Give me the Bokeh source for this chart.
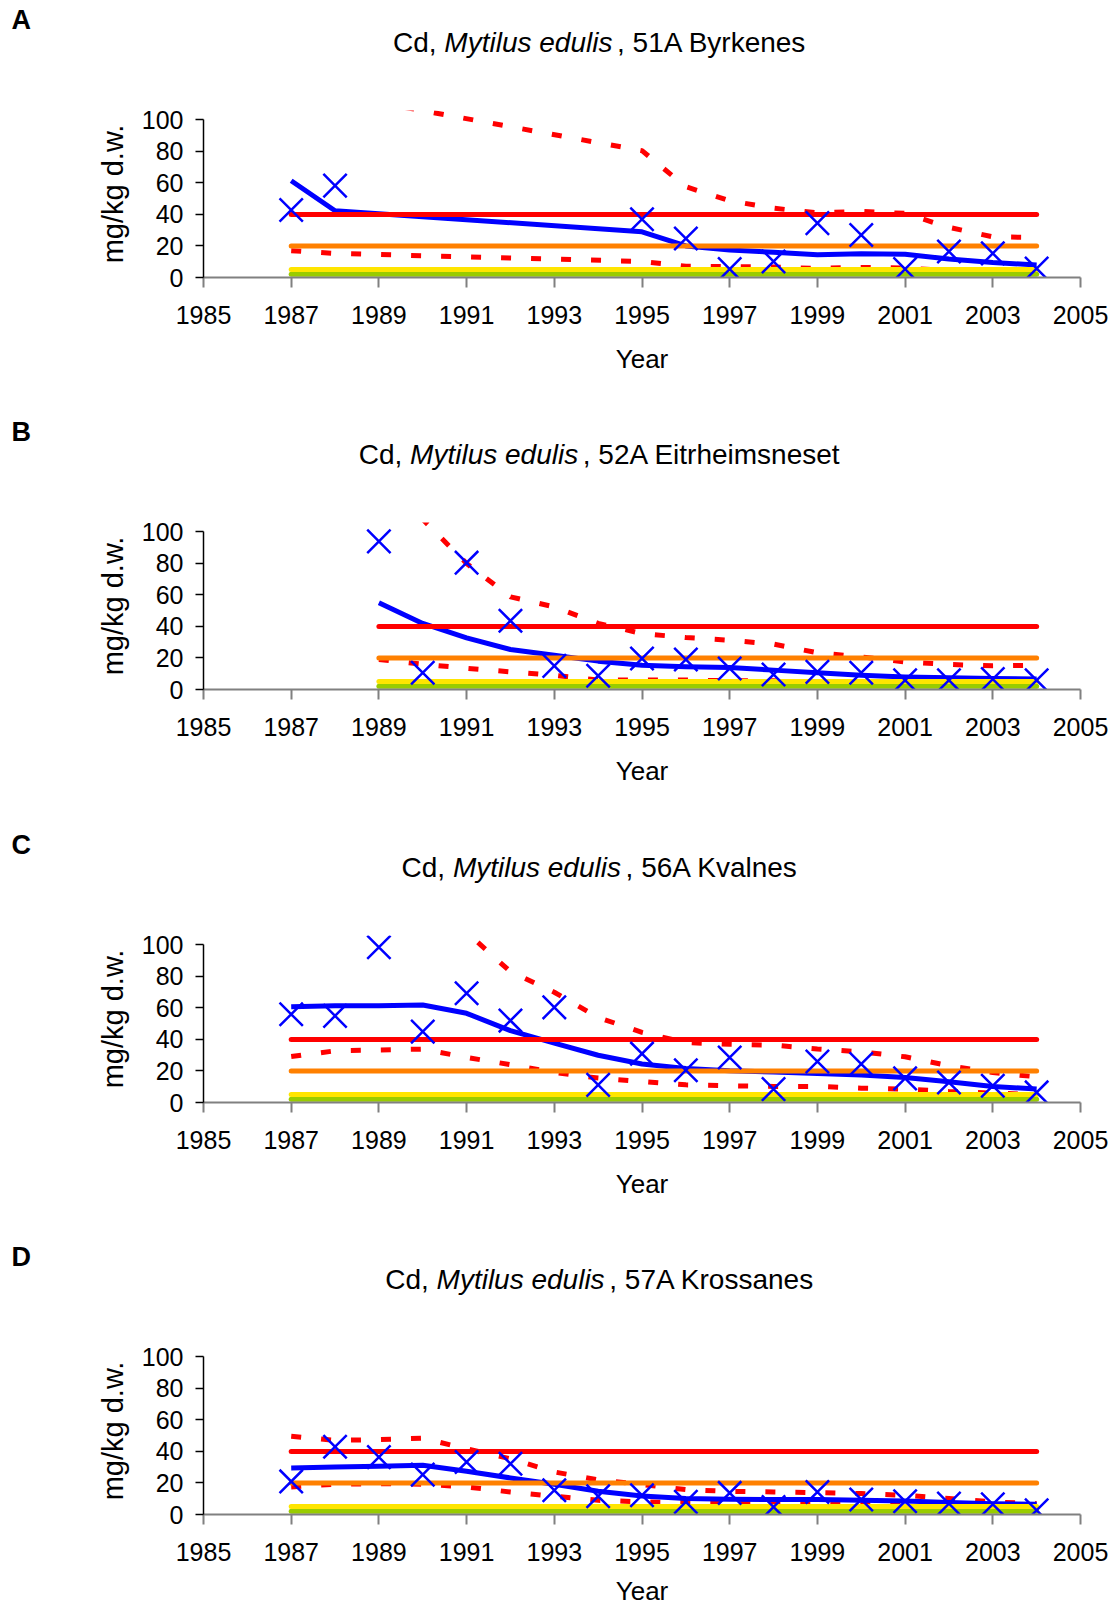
from bokeh.plotting import figure
from bokeh.models import Range1d, FixedTicker, Label
from bokeh.layouts import column
from bokeh.embed import file_html
from bokeh.resources import INLINE

# ---------------- data ----------------
x_ticks = [1985, 1987, 1989, 1991, 1993, 1995, 1997, 1999, 2001, 2003, 2005]
y_ticks = [0, 20, 40, 60, 80, 100]
class_levels = [2, 5, 20, 40]
class_colors = ["#99CC00", "#FFE500", "#FF8000", "#FF0000"]

years_A = [1987, 1988, 1995, 1996, 1997, 1998, 1999, 2000, 2001, 2002, 2003, 2004]
obs_A = [42.8, 58.3, 37.0, 24.8, 5.3, 10.2, 34.5, 27.0, 5.3, 16.5, 15.3, 5.7]
trend_A = [61.4, 42.4, 29.0, 20.0, 17.4, 16.0, 14.4, 15.0, 14.8, 11.7, 9.5, 8.0]
upper_A = [220.0, 116.0, 80.5, 57.6, 48.7, 44.0, 41.0, 42.0, 40.7, 31.8, 25.8, 25.4]
lower_A = [17.0, 15.3, 10.2, 7.2, 6.9, 6.6, 5.8, 6.4, 6.0, 4.5, 3.5, 3.0]

years_B = [1989, 1990, 1991, 1992, 1993, 1994, 1995, 1996, 1997, 1998, 1999, 2000, 2001, 2002, 2003, 2004]
obs_B = [94.0, 10.6, 80.5, 43.6, 15.0, 8.7, 19.7, 19.0, 13.3, 9.5, 11.2, 10.6, 5.9, 5.9, 6.6, 5.9]
trend_B = [55.0, 41.9, 32.8, 25.4, 21.8, 18.0, 15.4, 14.4, 14.0, 12.3, 10.6, 9.1, 8.0, 7.4, 7.0, 6.6]
upper_B = [160.0, 108.0, 80.0, 58.8, 52.4, 42.0, 35.5, 33.0, 31.3, 28.8, 23.3, 20.7, 17.5, 15.9, 15.0, 15.4]
lower_B = [19.0, 16.0, 13.5, 11.2, 9.0, 6.0, 6.0, 6.0, 5.5, 5.5, 4.5, 4.0, 3.5, 3.0, 3.0, 3.0]

years_C = [1987, 1988, 1989, 1990, 1991, 1992, 1993, 1994, 1995, 1996, 1997, 1998, 1999, 2000, 2001, 2002, 2003, 2004]
obs_C = [56.0, 55.0, 98.5, 45.0, 69.3, 52.0, 60.4, 11.2, 31.0, 20.5, 28.6, 8.5, 26.0, 24.4, 15.3, 12.7, 10.6, 6.4]
trend_C = [60.8, 61.4, 61.4, 61.9, 56.6, 45.6, 37.7, 30.0, 24.4, 21.6, 20.1, 19.3, 18.4, 17.4, 15.9, 13.1, 10.2, 8.5]
upper_C = [250.0, 220.0, 180.0, 140.0, 108.0, 83.0, 70.0, 54.0, 44.5, 38.0, 37.0, 36.4, 34.0, 32.2, 29.0, 23.3, 19.0, 16.3]
lower_C = [29.2, 32.8, 33.3, 33.9, 28.6, 24.0, 19.0, 15.5, 13.3, 11.2, 10.6, 10.2, 10.2, 9.1, 8.5, 7.0, 6.0, 5.0]

years_D = [1987, 1988, 1989, 1990, 1991, 1992, 1993, 1994, 1995, 1996, 1997, 1998, 1999, 2000, 2001, 2002, 2003, 2004]
obs_D = [21.0, 43.0, 36.4, 25.3, 33.3, 32.2, 15.4, 11.6, 12.2, 8.0, 13.7, 4.8, 14.3, 9.5, 8.4, 6.9, 6.5, 2.7]
trend_D = [29.5, 30.1, 30.7, 31.2, 27.4, 23.2, 19.2, 14.7, 11.8, 10.1, 9.7, 9.5, 9.5, 9.0, 8.6, 7.6, 6.9, 6.5]
upper_D = [49.7, 47.0, 47.6, 48.4, 41.7, 35.4, 27.0, 22.0, 19.0, 15.8, 14.7, 14.3, 13.9, 13.3, 12.2, 10.1, 8.0, 6.9]
lower_D = [17.5, 19.2, 19.6, 19.2, 17.5, 14.3, 11.6, 9.0, 8.0, 7.6, 7.6, 7.4, 7.4, 7.0, 6.5, 6.0, 5.5, 5.0]

panel_letters = ["A", "B", "C", "D"]
species = "Mytilus edulis"
stations = ["51A Byrkenes", "52A Eitrheimsneset", "56A Kvalnes", "57A Krossanes"]

# ---------------- layout geometry (pixels) ----------------
FIG_W = 1115
HEAD_H = 90                # header strip (letter + title)
FT = 20                    # space between header and plot frame
FL, FW, FH = 203, 877, 167
X0, X1, Y0, Y1 = 1985, 2005, 0, 106
FONT = "Liberation Sans"
TITLE_SIZE = 28

# Arial / Liberation Sans advance widths (1/1000 em)
W = {" ": 278, ",": 278, ".": 278, "A": 667, "B": 667, "C": 722, "D": 722, "E": 667,
     "K": 667, "M": 833, "a": 556, "b": 556, "c": 500, "d": 556, "e": 556, "f": 278,
     "g": 556, "h": 556, "i": 222, "j": 222, "k": 500, "l": 222, "m": 833, "n": 556,
     "o": 556, "p": 556, "q": 556, "r": 333, "s": 500, "t": 278, "u": 556, "v": 500,
     "w": 722, "x": 500, "y": 500, "z": 500}
for dgt in "0123456789":
    W[dgt] = 556


def tw(s, size):
    return sum(W.get(c, 556) for c in s) / 1000.0 * size


def make_header(letter, station):
    h = figure(width=FIG_W, height=HEAD_H, output_backend="svg", toolbar_location=None,
               title=None, x_axis_location=None, y_axis_location=None,
               x_range=Range1d(0, FIG_W), y_range=Range1d(HEAD_H, 0),
               min_border=0, min_border_left=0, min_border_right=0,
               min_border_top=0, min_border_bottom=0, frame_align=False)
    h.outline_line_color = None
    h.grid.visible = False
    h.xgrid.visible = False
    h.ygrid.visible = False
    h.background_fill_color = "white"
    h.border_fill_color = "white"
    h.add_layout(Label(x=11, y=19, text=letter, text_font=FONT,
                       text_font_size="27px", text_font_style="bold",
                       text_color="black", text_align="left", text_baseline="middle"))
    ts = TITLE_SIZE
    first = "Cd,"
    third = ", " + station
    total = tw("Cd, ", ts) + tw(species, ts) + tw(" " + third, ts)
    start = 601 - total / 2.0
    mid_y = 42
    h.add_layout(Label(x=start, y=mid_y, text=first, text_font=FONT,
                       text_font_size=f"{ts}px", text_color="black",
                       text_align="left", text_baseline="middle"))
    x2 = start + tw("Cd, ", ts)
    h.add_layout(Label(x=x2, y=mid_y, text=species, text_font=FONT,
                       text_font_size=f"{ts}px", text_font_style="italic", text_color="black",
                       text_align="left", text_baseline="middle"))
    x3 = x2 + tw(species, ts) + tw(" ", ts) * 0.6
    h.add_layout(Label(x=x3, y=mid_y, text=third, text_font=FONT,
                       text_font_size=f"{ts}px", text_color="black",
                       text_align="left", text_baseline="middle"))
    return h


def make_panel(years, obs, trend, upper, lower, height, label_standoff):
    p = figure(width=FIG_W, height=height, output_backend="svg", toolbar_location=None,
               title=None, x_range=Range1d(X0, X1), y_range=Range1d(Y0, Y1),
               min_border_left=FL, min_border_top=FT,
               min_border_right=FIG_W - FL - FW, min_border_bottom=height - FT - FH,
               frame_align=False)
    p.outline_line_color = None
    p.grid.visible = False
    p.background_fill_color = "white"
    p.border_fill_color = "white"

    # confidence band limits (dotted)
    p.line(years, upper, line_color="#FF0000", line_width=5, line_dash="10 20")
    p.line(years, lower, line_color="#FF0000", line_width=5, line_dash="10 20")
    # trend line
    p.line(years, trend, line_color="#0000FF", line_width=5, line_join="round")
    # class limits
    n = len(class_levels)
    p.segment(x0=[years[0]] * n, x1=[years[-1]] * n, y0=class_levels, y1=class_levels,
              line_color=class_colors, line_width=5, line_cap="round")
    # observations
    p.scatter(years, obs, marker="x", size=33, line_color="#0000FF", line_width=2.5)

    xa = p.xaxis[0]
    xa.ticker = FixedTicker(ticks=x_ticks)
    xa.axis_label = "Year"
    xa.axis_label_text_font = FONT
    xa.axis_label_text_font_size = "26px"
    xa.axis_label_text_font_style = "normal"
    xa.axis_label_text_color = "black"
    xa.axis_label_standoff = label_standoff
    xa.major_label_text_font = FONT
    xa.major_label_text_font_size = "25px"
    xa.major_label_text_color = "black"
    xa.major_label_standoff = 18
    xa.major_tick_out = 10
    xa.major_tick_in = 0
    xa.minor_tick_out = 0
    xa.minor_tick_in = 0
    xa.axis_line_color = "#808080"
    xa.axis_line_width = 2
    xa.major_tick_line_color = "#808080"
    xa.major_tick_line_width = 2

    ya = p.yaxis[0]
    ya.ticker = FixedTicker(ticks=y_ticks)
    ya.bounds = (0, 100)
    ya.axis_label = "mg/kg d.w."
    ya.axis_label_text_font = FONT
    ya.axis_label_text_font_size = "29px"
    ya.axis_label_text_font_style = "normal"
    ya.axis_label_text_color = "black"
    ya.axis_label_standoff = 10
    ya.major_label_text_font = FONT
    ya.major_label_text_font_size = "25px"
    ya.major_label_text_color = "black"
    ya.major_label_standoff = 12
    ya.major_tick_out = 8
    ya.major_tick_in = 0
    ya.minor_tick_out = 0
    ya.minor_tick_in = 0
    ya.axis_line_color = "black"
    ya.axis_line_width = 1.5
    ya.major_tick_line_color = "black"
    ya.major_tick_line_width = 1.5
    return p


panels = []
specs = [
    (years_A, obs_A, trend_A, upper_A, lower_A, 412 - HEAD_H, 17),
    (years_B, obs_B, trend_B, upper_B, lower_B, 413 - HEAD_H, 17),
    (years_C, obs_C, trend_C, upper_C, lower_C, 412 - HEAD_H, 17),
    (years_D, obs_D, trend_D, upper_D, lower_D, 372 - HEAD_H, 12),
]
for i, (yrs, ob, tr, up, lo, hgt, so) in enumerate(specs):
    panels.append(make_header(panel_letters[i], stations[i]))
    panels.append(make_panel(yrs, ob, tr, up, lo, hgt, so))

layout = column(*panels, spacing=0)
open("out.html", "w").write(file_html(layout, INLINE))
